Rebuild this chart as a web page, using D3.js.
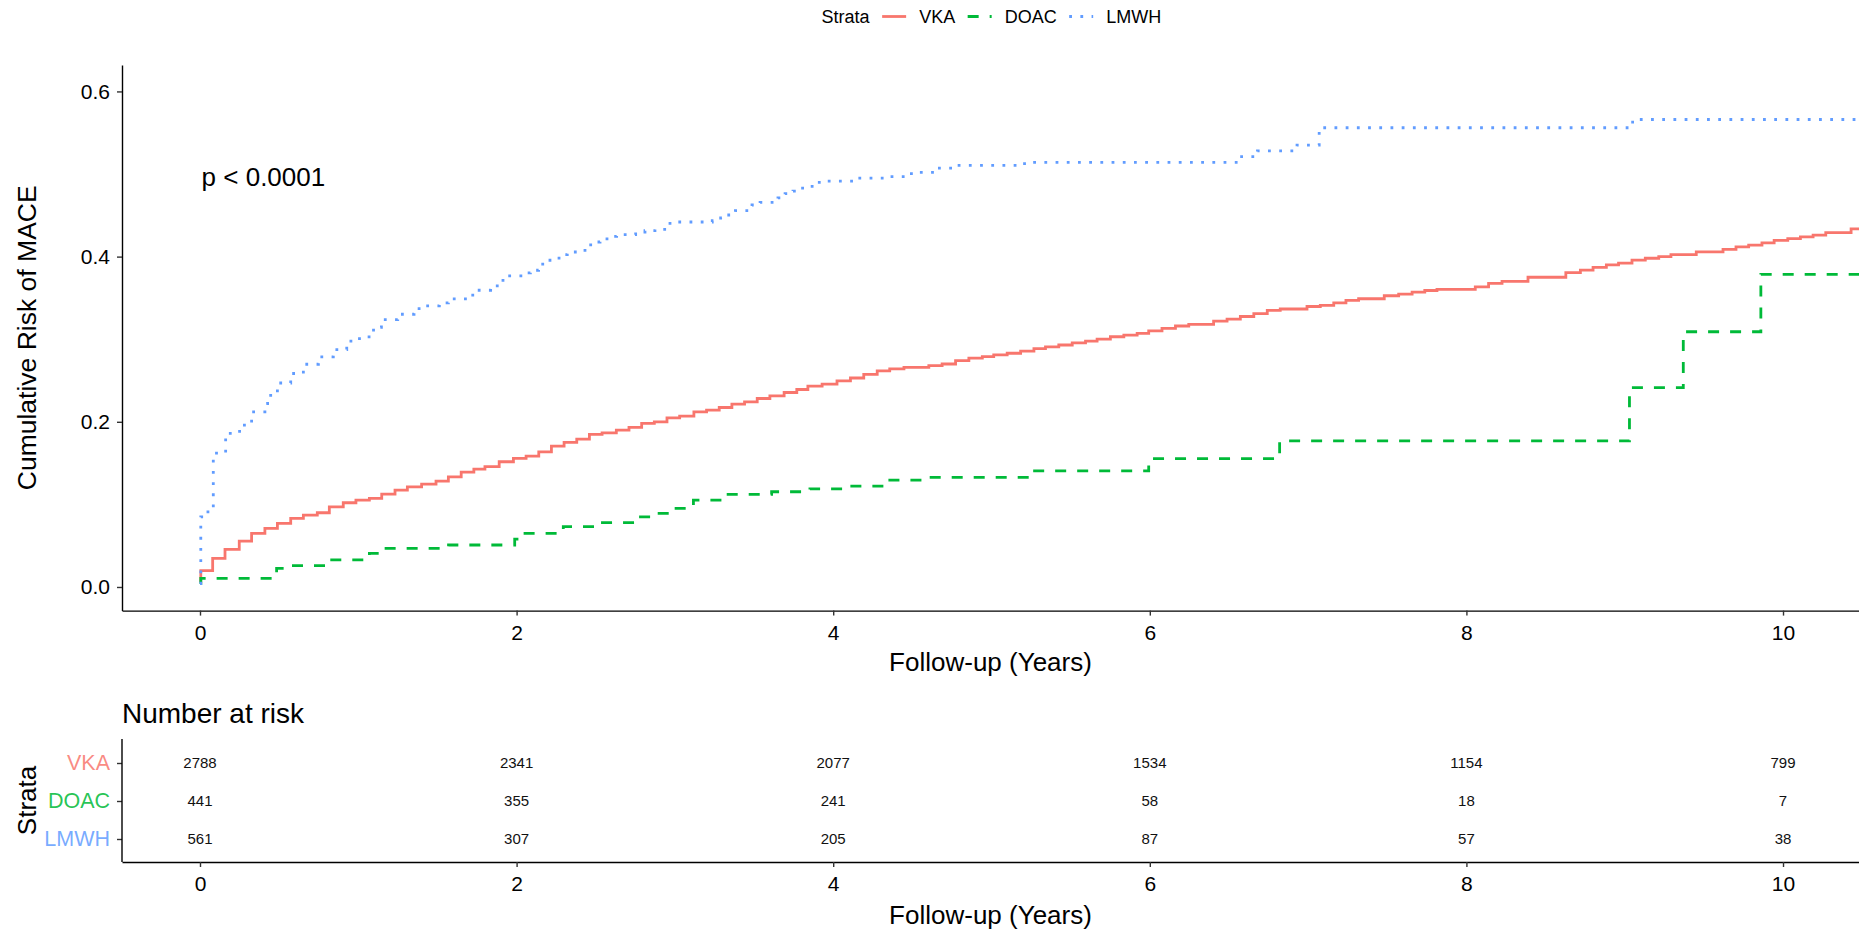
<!DOCTYPE html>
<html>
<head>
<meta charset="utf-8">
<script src="https://cdn.jsdelivr.net/npm/d3@7"></script>
<style>
    body { margin: 0; background: #ffffff; }
    svg { display: block; font-family: "Liberation Sans", Arial, sans-serif; }
</style>
</head>
<body>
<div id="chart"></div>
<script>
// Strata and colours (ggplot default hues)
const strata = ["VKA", "DOAC", "LMWH"]
const strataColors = ["#F8766D", "#00BA38", "#619CFF"]

// Cumulative risk step curves (years, risk)
const vkaTime = [0, 0.005, 0.08, 0.158, 0.248, 0.326, 0.41, 0.489, 0.573, 0.653,
    0.741, 0.817, 0.905, 0.985, 1.07, 1.148, 1.232, 1.31, 1.4, 1.491,
    1.569, 1.65, 1.73, 1.8, 1.89, 1.98, 2.06, 2.14, 2.22, 2.3,
    2.38, 2.46, 2.54, 2.63, 2.71, 2.79, 2.87, 2.95, 3.03, 3.12,
    3.2, 3.28, 3.36, 3.44, 3.52, 3.6, 3.69, 3.77, 3.84, 3.93,
    4.024, 4.109, 4.193, 4.278, 4.357, 4.447, 4.604, 4.688, 4.773, 4.857,
    4.942, 5.014, 5.099, 5.184, 5.268, 5.341, 5.425, 5.51, 5.594, 5.667,
    5.751, 5.836, 5.92, 5.993, 6.077, 6.162, 6.246, 6.403, 6.488, 6.572,
    6.657, 6.742, 6.824, 6.993, 7.077, 7.162, 7.239, 7.319, 7.481, 7.572,
    7.657, 7.737, 7.814, 8.056, 8.14, 8.225, 8.389, 8.628, 8.72, 8.8,
    8.884, 8.961, 9.046, 9.13, 9.215, 9.292, 9.452, 9.621, 9.703, 9.783,
    9.867, 9.944, 10.03, 10.11, 10.19, 10.27, 10.43]
const vkaRisk = [0.006, 0.0197, 0.0347, 0.0456, 0.0556, 0.065, 0.071, 0.077, 0.0831, 0.0871,
    0.0899, 0.0971, 0.102, 0.1052, 0.1073, 0.1125, 0.1173, 0.1213, 0.1246, 0.1282,
    0.1334, 0.139, 0.1427, 0.1458, 0.1516, 0.1557, 0.1585, 0.1637, 0.1706, 0.175,
    0.179, 0.1847, 0.1867, 0.19, 0.1932, 0.198, 0.2, 0.2048, 0.2068, 0.212,
    0.2141, 0.2173, 0.2214, 0.2242, 0.2282, 0.2314, 0.2355, 0.2391, 0.2431, 0.2456,
    0.2496, 0.253, 0.2574, 0.2617, 0.264, 0.266, 0.268, 0.27, 0.274, 0.277,
    0.279, 0.281, 0.283, 0.2855, 0.2885, 0.2907, 0.293, 0.2955, 0.2976, 0.30,
    0.303, 0.305, 0.307, 0.31, 0.313, 0.316, 0.318, 0.322, 0.3244, 0.3275,
    0.331, 0.335, 0.3366, 0.3396, 0.341, 0.344, 0.347, 0.349, 0.3526, 0.3547,
    0.357, 0.359, 0.3603, 0.3634, 0.3677, 0.37, 0.375, 0.3807, 0.3837, 0.387,
    0.390, 0.392, 0.3958, 0.398, 0.400, 0.4023, 0.4058, 0.4088, 0.4118, 0.414,
    0.4166, 0.4196, 0.4218, 0.424, 0.426, 0.429, 0.4335]

const doacTime = [0, 0.005, 0.484, 0.573, 0.817, 1.07, 1.148, 1.57, 1.988, 2.043,
    2.295, 2.516, 2.754, 2.868, 2.98, 3.117, 3.31, 3.611, 3.853, 4.106,
    4.348, 4.6, 5.256, 5.993, 6.82, 9.03, 9.37, 9.86]
const doacRisk = [0.004, 0.0105, 0.0226, 0.0258, 0.0327, 0.0407, 0.0468, 0.0508, 0.058, 0.065,
    0.073, 0.0778, 0.085, 0.0891, 0.0952, 0.1052, 0.1121, 0.1153, 0.1189, 0.1222,
    0.1294, 0.1327, 0.1406, 0.1553, 0.177, 0.2414, 0.309, 0.3785]

const lmwhTime = [0, 0.005, 0.04, 0.084, 0.162, 0.25, 0.326, 0.41, 0.427, 0.489,
    0.573, 0.653, 0.748, 0.842, 0.927, 0.979, 1.068, 1.121, 1.146, 1.249,
    1.352, 1.404, 1.512, 1.569, 1.699, 1.723, 1.836, 1.889, 1.914, 2.036,
    2.087, 2.139, 2.165, 2.268, 2.32, 2.432, 2.468, 2.527, 2.571, 2.632,
    2.752, 2.811, 2.874, 2.969, 3.236, 3.289, 3.34, 3.382, 3.487, 3.538,
    3.651, 3.696, 3.746, 3.797, 3.858, 3.902, 3.961, 4.152, 4.35, 4.472,
    4.531, 4.645, 4.77, 5.17, 5.23, 6.57, 6.68, 6.93, 7.07, 9.05]
const lmwhRisk = [0.004, 0.085, 0.091, 0.162, 0.186, 0.196, 0.212, 0.222, 0.232, 0.247,
    0.2585, 0.2697, 0.2786, 0.2875, 0.2976, 0.3008, 0.3109, 0.3145, 0.3238, 0.3302,
    0.3371, 0.3403, 0.3439, 0.3488, 0.3512, 0.3593, 0.3645, 0.3681, 0.3766, 0.3802,
    0.3835, 0.3871, 0.3956, 0.4024, 0.4056, 0.4109, 0.4177, 0.4197, 0.4246, 0.4266,
    0.4298, 0.4314, 0.433, 0.4419, 0.4435, 0.4468, 0.4504, 0.4556, 0.4625, 0.4657,
    0.471, 0.4762, 0.4794, 0.483, 0.485, 0.4899, 0.4915, 0.4951, 0.4968, 0.5004,
    0.502, 0.5072, 0.5105, 0.5126, 0.514, 0.521, 0.528, 0.535, 0.556, 0.566]

// Number at risk table
const riskTimes = [0, 2, 4, 6, 8, 10]
const vkaAtRisk = [2788, 2341, 2077, 1534, 1154, 799]
const doacAtRisk = [441, 355, 241, 58, 18, 7]
const lmwhAtRisk = [561, 307, 205, 87, 57, 38]

// Tick labels
const xTicks = [0, 2, 4, 6, 8, 10]
const yTicks = [0, 0.2, 0.4, 0.6]

async function drawChart() {

    // Set dimensions
    const dimensions = {
        width: 1859,
        height: 932,
        plot: { left: 122, right: 1859, top: 65, bottom: 610.6 },
        table: { top: 739, bottom: 862 }
    }
    const font = '"Liberation Sans", Arial, sans-serif'

    // Define wrapper
    const wrapper = d3.select("#chart").append("svg")
        .attr("width", dimensions.width)
        .attr("height", dimensions.height)

    // Create scales (limits include ggplot's expansion, plot is cut at the right)
    const xScale = d3.scaleLinear()
        .domain([-0.4927, 10.48])
        .range([dimensions.plot.left, dimensions.plot.right])

    const yScale = d3.scaleLinear()
        .domain([-0.0286, 0.632])
        .range([dimensions.plot.bottom, dimensions.plot.top])

    const rowScale = d3.scalePoint()
        .domain(strata)
        .range([763, 839])

    // Series
    const curveEnd = 10.6
    const makePoints = (times, risks) => {
        const pts = times.map((t, i) => ({ t, v: risks[i] }))
        pts.push({ t: curveEnd, v: risks[risks.length - 1] })
        return pts
    }
    const series = [
        { name: "VKA", color: strataColors[0], dash: null, points: makePoints(vkaTime, vkaRisk), atRisk: vkaAtRisk },
        { name: "DOAC", color: strataColors[1], dash: "11 11", points: makePoints(doacTime, doacRisk), atRisk: doacAtRisk },
        { name: "LMWH", color: strataColors[2], dash: "2.8 8.4", points: makePoints(lmwhTime, lmwhRisk), atRisk: lmwhAtRisk }
    ]

    // Clip for the curves
    wrapper.append("clipPath")
        .attr("id", "plot-clip")
        .append("rect")
            .attr("x", dimensions.plot.left)
            .attr("y", dimensions.plot.top - 5)
            .attr("width", dimensions.plot.right - dimensions.plot.left)
            .attr("height", dimensions.plot.bottom - dimensions.plot.top + 5)

    // Draw curves
    const line = d3.line()
        .x(d => xScale(d.t))
        .y(d => yScale(d.v))
        .curve(d3.curveStepAfter)

    wrapper.append("g")
        .attr("clip-path", "url(#plot-clip)")
        .selectAll("path")
        .data(series)
        .enter()
        .append("path")
            .attr("d", d => line(d.points))
            .attr("fill", "none")
            .attr("stroke", d => d.color)
            .attr("stroke-width", 2.8)
            .attr("stroke-dasharray", d => d.dash)
            .attr("stroke-linecap", "butt")

    // Axis helper for ggplot-like styling
    const styleAxis = (g, fontSize) => {
        g.select(".domain").attr("stroke", "#000").attr("stroke-width", 1.4)
        g.selectAll(".tick line").attr("stroke", "#333").attr("stroke-width", 1.4)
        g.selectAll(".tick text")
            .attr("fill", "#000")
            .style("font-family", font)
            .style("font-size", fontSize + "px")
    }

    // Main x axis
    const xAxisMain = wrapper.append("g")
        .attr("transform", `translate(0, ${dimensions.plot.bottom})`)
        .call(d3.axisBottom(xScale).tickValues(xTicks).tickSize(5).tickSizeOuter(0))
    styleAxis(xAxisMain, 21)
    xAxisMain.selectAll(".tick text").attr("y", 22).attr("dy", "0.35em")

    // Main y axis
    const yAxisMain = wrapper.append("g")
        .attr("transform", `translate(${dimensions.plot.left}, 0)`)
        .call(d3.axisLeft(yScale).tickValues(yTicks).tickFormat(d3.format(".1f"))
            .tickSize(5).tickPadding(7).tickSizeOuter(0))
    styleAxis(yAxisMain, 21)

    // Axis titles
    const midX = (dimensions.plot.left + dimensions.plot.right) / 2
    wrapper.append("text")
        .attr("x", midX)
        .attr("y", dimensions.plot.bottom + 51)
        .attr("dy", "0.35em")
        .attr("text-anchor", "middle")
        .style("font-size", "26px")
        .text("Follow-up (Years)")

    wrapper.append("text")
        .attr("transform", `translate(27, ${(dimensions.plot.top + dimensions.plot.bottom) / 2}) rotate(-90)`)
        .attr("dy", "0.35em")
        .attr("text-anchor", "middle")
        .style("font-size", "26.5px")
        .text("Cumulative Risk of MACE")

    // p value
    wrapper.append("text")
        .attr("x", 201.6)
        .attr("y", 177)
        .attr("dy", "0.35em")
        .style("font-size", "26px")
        .text("p < 0.0001")

    // Legend
    const legend = wrapper.append("g")
        .attr("transform", "translate(821.6, 16.5)")
    let lx = 0
    const legendTitle = legend.append("text")
        .attr("x", lx)
        .attr("dy", "0.35em")
        .style("font-size", "18px")
        .text("Strata")
    lx += legendTitle.node().getComputedTextLength() + 12.5

    series.forEach(s => {
        legend.append("line")
            .attr("x1", lx)
            .attr("x2", lx + 24)
            .attr("y1", 0)
            .attr("y2", 0)
            .attr("stroke", s.color)
            .attr("stroke-width", 2.8)
            .attr("stroke-dasharray", s.dash)
        lx += 24 + 13
        const label = legend.append("text")
            .attr("x", lx)
            .attr("dy", "0.35em")
            .style("font-size", "18px")
            .text(s.name)
        lx += label.node().getComputedTextLength() + 12.5
    })

    // Number at risk table
    wrapper.append("text")
        .attr("x", dimensions.plot.left)
        .attr("y", 713)
        .attr("dy", "0.35em")
        .style("font-size", "28px")
        .text("Number at risk")

    const xAxisTable = wrapper.append("g")
        .attr("transform", `translate(0, ${dimensions.table.bottom})`)
        .call(d3.axisBottom(xScale).tickValues(xTicks).tickSize(5).tickSizeOuter(0))
    styleAxis(xAxisTable, 21)
    xAxisTable.selectAll(".tick text").attr("y", 22).attr("dy", "0.35em")

    const yAxisTable = wrapper.append("g")
        .attr("transform", `translate(${dimensions.plot.left}, 0)`)
        .call(d3.axisLeft(rowScale).tickSize(5).tickPadding(7).tickSizeOuter(0))
    yAxisTable.select(".domain").remove()
    yAxisTable.append("line")
        .attr("y1", dimensions.table.top)
        .attr("y2", dimensions.table.bottom)
        .attr("stroke", "#000")
        .attr("stroke-width", 1.4)
    styleAxis(yAxisTable, 21.5)
    yAxisTable.selectAll(".tick text")
        .attr("fill", (d, i) => strataColors[i])
        .attr("fill-opacity", 0.85)

    const rows = wrapper.append("g")
    series.forEach(s => {
        rows.selectAll(null)
            .data(s.atRisk)
            .enter()
            .append("text")
                .attr("x", (d, i) => xScale(riskTimes[i]))
                .attr("y", rowScale(s.name))
                .attr("dy", "0.35em")
                .attr("text-anchor", "middle")
                .style("font-size", "15px")
                .attr("fill", "#111")
                .text(d => d)
    })

    wrapper.append("text")
        .attr("x", midX)
        .attr("y", dimensions.table.bottom + 52.5)
        .attr("dy", "0.35em")
        .attr("text-anchor", "middle")
        .style("font-size", "26px")
        .text("Follow-up (Years)")

    wrapper.append("text")
        .attr("transform", `translate(27, ${(dimensions.table.top + dimensions.table.bottom) / 2}) rotate(-90)`)
        .attr("dy", "0.35em")
        .attr("text-anchor", "middle")
        .style("font-size", "26px")
        .text("Strata")
}

drawChart()
</script>
</body>
</html>
